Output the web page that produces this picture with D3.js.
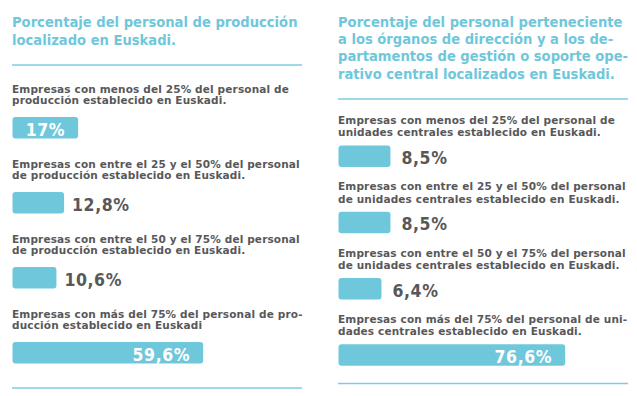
<!DOCTYPE html>
<html>
<head>
<meta charset="utf-8">
<script src="https://cdn.jsdelivr.net/npm/d3@7"></script>
<style>
  html, body { margin: 0; padding: 0; background: #ffffff; }
  svg { display: block; }
</style>
</head>
<body>
<svg id="chart" width="637" height="396"></svg>
<script>
// ---------- DATA ----------
const leftTitle = ["Porcentaje del personal de producción", "localizado en Euskadi."];
const leftCategories = [
  ["Empresas con menos del 25% del personal de", "producción establecido en Euskadi."],
  ["Empresas con entre el 25 y el 50% del personal", "de producción establecido en Euskadi."],
  ["Empresas con entre el 50 y el 75% del personal", "de producción establecido en Euskadi."],
  ["Empresas con más del 75% del personal de pro-", "ducción establecido en Euskadi"]
];
const leftValues = [17, 12.8, 10.6, 59.6];

const rightTitle = [
  "Porcentaje del personal perteneciente",
  "a los órganos de dirección y a los de-",
  "partamentos de gestión o soporte ope-",
  "rativo central localizados en Euskadi."
];
const rightCategories = [
  ["Empresas con menos del 25% del personal de", "unidades centrales establecido en Euskadi."],
  ["Empresas con entre el 25 y el 50% del personal", "de unidades centrales establecido en Euskadi."],
  ["Empresas con entre el 50 y el 75% del personal", "de unidades centrales establecido en Euskadi."],
  ["Empresas con más del 75% del personal de uni-", "dades centrales establecido en Euskadi."]
];
const rightValues = [8.5, 8.5, 6.4, 76.6];

// ---------- STYLE / LAYOUT ----------
const BLUE = "#6fc7db";
const RULE = "#7ccde0";
const GREY = "#58585a";
const esLocale = d3.formatLocale({decimal: ",", thousands: ".", grouping: [3], currency: ["", "€"]});
const fmt = v => esLocale.format(".3~")(v) + "%";

const panels = [
  {
    title: leftTitle, cats: leftCategories, vals: leftValues,
    x0: 12.5, x1: 302, titleY: 26.5, titleStep: 18.5, topRule: 65,
    barTop0: 117, barTop1: 342, labelOff: -24.5, labelStep: 11.5,
    bottomRule: 388, exponent: 0.85, rangeMax: 296, outGap: 8
  },
  {
    title: rightTitle, cats: rightCategories, vals: rightValues,
    x0: 338.5, x1: 628, titleY: 26.5, titleStep: 17.4, topRule: 99,
    barTop0: 145.5, barTop1: 344.3, labelOff: -21.5, labelStep: 12.3,
    bottomRule: 383.5, exponent: 0.67, rangeMax: 271, outGap: 11
  }
];

const BAR_H = 21.5;
const svg = d3.select("#chart");

panels.forEach(p => {
  const g = svg.append("g");
  const w = d3.scalePow().exponent(p.exponent).domain([0, 100]).range([0, p.rangeMax]);
  const y = d3.scalePoint().domain(d3.range(p.vals.length)).range([p.barTop0, p.barTop1]);

  // Title
  g.append("text")
    .attr("x", p.x0 - 0.5)
    .attr("y", p.titleY)
    .attr("fill", BLUE)
    .style("font-family", "'DejaVu Sans Condensed', 'DejaVu Sans', sans-serif")
    .style("font-stretch", "condensed")
    .style("font-weight", "bold")
    .style("font-size", "14.6px")
    .selectAll("tspan").data(p.title).join("tspan")
      .attr("x", p.x0 - 0.5)
      .attr("dy", (d, i) => i === 0 ? 0 : p.titleStep)
      .text(d => d);

  // Rules
  [p.topRule, p.bottomRule].forEach(ry => {
    g.append("line")
      .attr("x1", p.x0 - 0.5).attr("x2", p.x1)
      .attr("y1", ry).attr("y2", ry)
      .attr("stroke", RULE).attr("stroke-width", 1.3);
  });

  const rows = g.selectAll("g.row").data(p.vals.map((v, i) => ({v, i, cat: p.cats[i]})))
    .join("g").attr("class", "row");

  // Category labels
  rows.append("text")
    .attr("fill", GREY)
    .style("font-family", "'DejaVu Sans', Verdana, sans-serif")
    .style("font-weight", "bold")
    .style("font-size", "10.5px")
    .style("letter-spacing", "0.15px")
    .selectAll("tspan").data(d => d.cat.map((line, j) => ({line, j, i: d.i}))).join("tspan")
      .attr("x", p.x0 - 0.5)
      .attr("y", d => y(d.i) + p.labelOff + d.j * p.labelStep)
      .text(d => d.line);

  // Bars
  rows.append("rect")
    .attr("x", p.x0)
    .attr("y", d => y(d.i))
    .attr("width", d => w(d.v))
    .attr("height", BAR_H)
    .attr("rx", 3).attr("ry", 3)
    .attr("fill", BLUE);

  // Values
  rows.append("text")
    .attr("x", d => d.v >= 15 ? p.x0 + w(d.v) - 13 : p.x0 + w(d.v) + p.outGap)
    .attr("y", d => y(d.i) + 18.5)
    .attr("text-anchor", d => d.v >= 15 ? "end" : "start")
    .attr("fill", d => d.v >= 15 ? "#ffffff" : GREY)
    .style("font-family", "'DejaVu Sans Condensed', 'DejaVu Sans', sans-serif")
    .style("font-stretch", "condensed")
    .style("font-weight", "bold")
    .style("font-size", "17.5px")
    .style("letter-spacing", "0.6px")
    .text(d => fmt(d.v));
});
</script>
</body>
</html>
